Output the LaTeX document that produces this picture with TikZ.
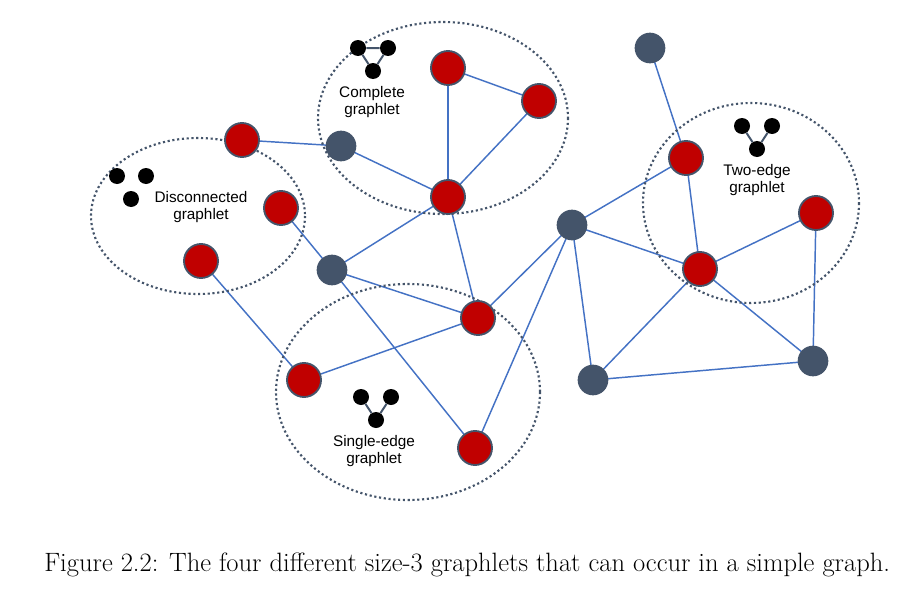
\documentclass[tikz,border=0pt]{standalone}
\usepackage{fontspec}
\newfontfamily\lab{Liberation Sans}
\usetikzlibrary{backgrounds}
\begin{document}
\begin{tikzpicture}[x=0.75pt,y=-0.75pt,
  red/.style={circle,minimum size=25.5pt,inner sep=0,fill={rgb,255:red,192;green,0;blue,0},draw={rgb,255:red,68;green,84;blue,106},line width=1.4pt},
  dk/.style={circle,minimum size=23pt,inner sep=0,fill={rgb,255:red,68;green,84;blue,106}},
  e/.style={draw={rgb,255:red,68;green,114;blue,196},line width=1.1pt},
  grp/.style={draw={rgb,255:red,68;green,84;blue,106},line width=1.6pt,dotted},
  sd/.style={circle,fill=black,minimum size=12pt,inner sep=0},
  se/.style={draw={rgb,255:red,68;green,84;blue,106},line width=1.5pt},
  lb/.style={font=\lab\fontsize{11.5pt}{13pt}\selectfont,align=center}]
\useasboundingbox (0,0) rectangle (921,589);
\draw[grp] (198,216) ellipse [x radius=107,y radius=78];
\draw[grp] (443,118) ellipse [x radius=125,y radius=96];
\draw[grp] (751,203) ellipse [x radius=108,y radius=100];
\draw[grp] (408,392) ellipse [x radius=132,y radius=108];
\node[red] (r1) at (242,140) {};
\node[red] (r2) at (281,208) {};
\node[red] (r3) at (201,261) {};
\node[red] (r4) at (448,68) {};
\node[red] (r5) at (539,101) {};
\node[red] (r6) at (448,197) {};
\node[red] (r7) at (478,318) {};
\node[red] (r8) at (304,380) {};
\node[red] (r9) at (475,448) {};
\node[red] (r10) at (686,158) {};
\node[red] (r11) at (816,213) {};
\node[red] (r12) at (700,269) {};
\node[dk] (d1) at (341,146) {};
\node[dk] (d2) at (332,270) {};
\node[dk] (d3) at (572,225) {};
\node[dk] (d4) at (650,48) {};
\node[dk] (d5) at (593,380) {};
\node[dk] (d6) at (813,361) {};
\begin{scope}[on background layer]
\foreach \a/\b in {r1/d1,d1/r6,r4/r5,r4/r6,r5/r6,r6/d2,r6/r7,r2/d2,d2/r7,d2/r9,r3/r8,r8/r7,r7/d3,d3/r9,d3/r10,d3/r12,d4/r10,r10/r12,r12/r11,r11/d6,r12/d5,r12/d6,d5/d6,d3/d5}
  \draw[e] (\a.center) -- (\b.center);
\end{scope}
% icons
\node[sd] (ca) at (358,48) {}; \node[sd] (cb) at (388,48) {}; \node[sd] (cc) at (373,71) {};
\begin{scope}[on background layer]
\draw[se] (ca)--(cb) (cb)--(cc) (cc)--(ca);
\end{scope}
\node[sd] (da) at (117,176) {}; \node[sd] (db) at (146,176) {}; \node[sd] (dc) at (131,199) {};
\node[sd] (ta) at (742,126) {}; \node[sd] (tb) at (772,126) {}; \node[sd] (tc) at (757,149) {};
\draw[se] (ta)--(tc) (tb)--(tc);
\node[sd] (sa) at (361,397) {}; \node[sd] (sb) at (391,397) {}; \node[sd] (sc) at (376,420) {};
\draw[se] (sa)--(sc) (sb)--(sc);
\node[lb] (lc) at (372,102) {Complete\\graphlet};
\node[lb] (ld) at (201,207) {Disconnected\\graphlet};
\node[lb] (lt) at (757,180) {Two-edge\\graphlet};
\node[lb] (ls) at (374,451) {Single-edge\\graphlet};
\node[anchor=west,inner sep=0,font=\fontsize{19.9pt}{21pt}\selectfont] (cap) at (44,565) {Figure 2.2: The four different size-3 graphlets that can occur in a simple graph.};
\end{tikzpicture}
\end{document}
